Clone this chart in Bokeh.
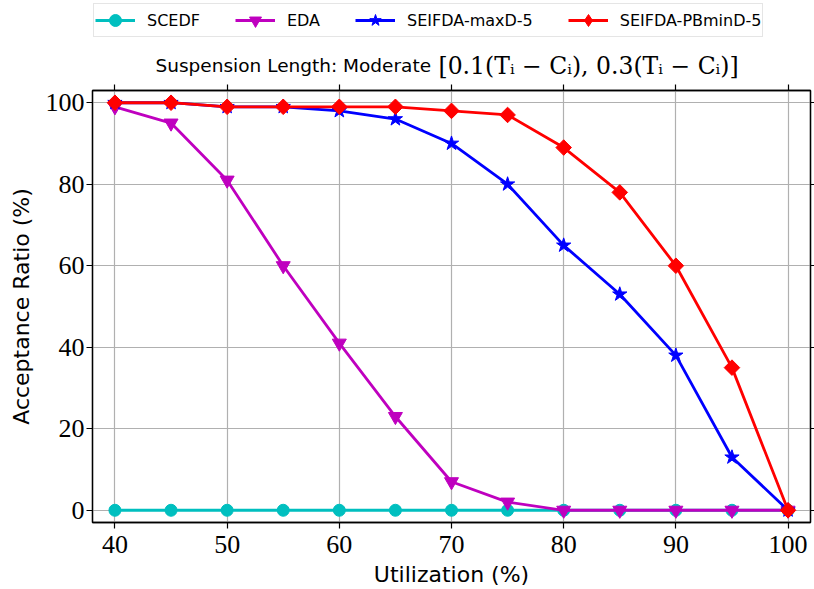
import math
from bokeh.plotting import figure
from bokeh.layouts import column
from bokeh.models import (Legend, LegendItem, LinearAxis, FixedTicker, Label, Range1d)
from bokeh.embed import file_html
from bokeh.resources import INLINE

# ---- data ----
utilization = [40, 45, 50, 55, 60, 65, 70, 75, 80, 85, 90, 95, 100]
scedf = [0, 0, 0, 0, 0, 0, 0, 0, 0, 0, 0, 0, 0]
eda = [99, 95, 81, 60, 41, 23, 7, 2, 0, 0, 0, 0, 0]
seifda_maxd5 = [100, 100, 99, 99, 98, 96, 90, 80, 65, 53, 38, 13, 0]
seifda_pbmind5 = [100, 100, 99, 99, 99, 99, 98, 97, 89, 78, 60, 35, 0]
series_names = ["SCEDF", "EDA", "SEIFDA-maxD-5", "SEIFDA-PBminD-5"]
x_ticks = [40, 50, 60, 70, 80, 90, 100]
y_ticks = [0, 20, 40, 60, 80, 100]
title_text = "Suspension Length: Moderate"
title_math = "[0.1(T\u1d62 \u2212 C\u1d62), 0.3(T\u1d62 \u2212 C\u1d62)]"

SANS = "DejaVu Sans"
SERIF = "Liberation Serif"
W = 814
HEADER_H = 84
MAIN_H = 589 - HEADER_H

plot_styles = [
    ("#00bfbf", dict(marker="circle", size=12)),
    ("#bf00bf", dict(marker="inverted_triangle", size=14)),
    ("#0000ff", dict(marker="star", size=15)),
    ("#ff0000", dict(marker="square", size=11, angle=math.pi / 4)),
]
legend_styles = [
    ("#00bfbf", dict(marker="circle", size=12)),
    ("#bf00bf", dict(marker="inverted_triangle", size=14)),
    ("#0000ff", dict(marker="star", size=15)),
    ("#ff0000", dict(marker="diamond", size=18)),
]
values = [scedf, eda, seifda_maxd5, seifda_pbmind5]
LW = 2.8

# ---------------- main plot ----------------
p = figure(width=W, height=MAIN_H, x_range=Range1d(38, 102), y_range=Range1d(-3, 103),
           output_backend="svg", toolbar_location=None, title=None,
           min_border_left=92, min_border_right=4, min_border_top=6, min_border_bottom=67)
p.background_fill_color = "white"
p.border_fill_color = "white"
p.outline_line_color = "black"
p.outline_line_width = 1.3

for ax, ticks in ((p.xaxis[0], x_ticks), (p.yaxis[0], y_ticks)):
    ax.ticker = FixedTicker(ticks=ticks)
    ax.major_label_text_font = SERIF
    ax.major_label_text_font_size = "26px"
    ax.major_label_text_color = "black"
    ax.axis_label_text_font = SANS
    ax.axis_label_text_font_size = "22px"
    ax.axis_label_text_font_style = "normal"
    ax.axis_label_text_color = "black"
    ax.major_tick_out = 6
    ax.major_tick_in = 0
    ax.minor_tick_out = 0
    ax.minor_tick_in = 0
    ax.axis_line_color = "black"
    ax.axis_line_width = 1.3
    ax.major_tick_line_width = 1.2
p.xaxis.axis_label = "Utilization (%)"
p.yaxis.axis_label = "Acceptance Ratio (%)"
p.xaxis.major_label_standoff = 7
p.xaxis.axis_label_standoff = 6
p.yaxis.major_label_standoff = 2
p.yaxis.axis_label_standoff = 9

top_axis = LinearAxis(ticker=FixedTicker(ticks=x_ticks),
                      major_label_overrides={t: "" for t in x_ticks},
                      major_label_standoff=0, major_tick_out=6, major_tick_in=0,
                      minor_tick_out=0, minor_tick_in=0, axis_line_color="black",
                      axis_line_width=1.3, major_tick_line_width=1.2)
right_axis = LinearAxis(ticker=FixedTicker(ticks=y_ticks),
                        major_label_overrides={t: "" for t in y_ticks},
                        major_label_standoff=0, major_tick_out=4, major_tick_in=0,
                        minor_tick_out=0, minor_tick_in=0, axis_line_color="black",
                        axis_line_width=1.3, major_tick_line_width=1.2)
p.add_layout(top_axis, "above")
p.add_layout(right_axis, "right")

p.xgrid.ticker = FixedTicker(ticks=x_ticks)
p.ygrid.ticker = FixedTicker(ticks=y_ticks)
p.grid.grid_line_color = "#b0b0b0"
p.grid.grid_line_width = 1.2

for ys, (col, mk) in zip(values, plot_styles):
    p.line(utilization, ys, line_color=col, line_width=LW)
    p.scatter(utilization, ys, fill_color=col, line_color=col, **mk)

# ---------------- header: legend + title ----------------
# (its frame is aligned by the column layout with the main plot's frame, x from 92)
h = figure(width=W, height=HEADER_H, x_range=Range1d(200, 300), y_range=Range1d(200, 300),
           output_backend="svg", toolbar_location=None, title=None,
           x_axis_type=None, y_axis_type=None, min_border=0)
h.outline_line_color = None
h.background_fill_color = "white"
h.border_fill_color = "white"

items = []
for name, ys, (col, mk) in zip(series_names, values, legend_styles):
    # legend sample renderers (their points lie outside this header's ranges)
    ln = h.line(utilization, ys, line_color=col, line_width=LW)
    sc = h.scatter(utilization, ys, fill_color=col, line_color=col, **mk)
    items.append(LegendItem(label=name, renderers=[ln, sc]))

legend = Legend(items=items, orientation="horizontal", location=(1, HEADER_H - 37),
                glyph_width=40, glyph_height=30, label_standoff=12, spacing=35,
                padding=1, margin=0, label_text_font=SANS, label_text_font_size="16px",
                label_text_color="black",
                label_height=22, border_line_color="#cccccc", border_line_width=1.2,
                background_fill_color="white", background_fill_alpha=1.0)
h.add_layout(legend, "center")

h.add_layout(Label(x=63, y=19, x_units="screen", y_units="screen",
                   text=title_text, text_font=SANS, text_font_size="18.5px",
                   text_align="left", text_baseline="alphabetic", text_color="black"))
h.add_layout(Label(x=346, y=19, x_units="screen", y_units="screen",
                   text=title_math, text_font="DejaVu Serif", text_font_size="23.5px",
                   text_align="left", text_baseline="alphabetic", text_color="black"))

layout = column(h, p, spacing=0)
open("out.html", "w").write(file_html(layout, INLINE))
